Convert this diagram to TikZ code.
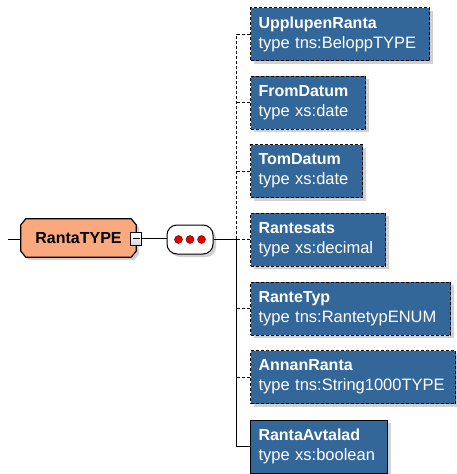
\documentclass[tikz,border=0pt]{standalone}
\usepackage{fontspec}
\setmainfont{Liberation Sans}
\usetikzlibrary{shadows,calc}
\definecolor{boxblue}{RGB}{51,102,153}
\definecolor{peach}{RGB}{250,168,125}
\definecolor{dotred}{RGB}{230,0,0}
\tikzset{
  x=1pt,y=-1pt,
  shad/.style={drop shadow={shadow xshift=3pt,shadow yshift=-3pt,fill=black!30,opacity=.6}},
  elem/.style={draw=black,line width=1pt,fill=boxblue,text=white,shad,
    font=\fontsize{16.5}{20}\selectfont,align=left,anchor=north west,
    minimum height=53pt,inner xsep=8pt,inner ysep=2pt},
  opt/.style={dash pattern=on 3pt off 2pt},
  conn/.style={draw=black,line width=1pt},
}
\begin{document}
\begin{tikzpicture}
\useasboundingbox (0,0) rectangle (456,474);
% main type node (chamfered outline drawn from its anchors)
\node[minimum width=115pt,minimum height=38pt,inner sep=0pt,
  font=\fontsize{16}{20}\selectfont\bfseries] (main) at (78.5,238) {};
\filldraw[draw=black,line width=1.2pt,fill=peach,shad]
  ($(main.north west)+(5,0)$) -- ($(main.north east)+(-5,0)$) -- ($(main.north east)+(0,6)$)
  -- ($(main.south east)+(0,-6)$) -- ($(main.south east)+(-5,0)$) -- ($(main.south west)+(5,0)$)
  -- ($(main.south west)+(0,-6)$) -- ($(main.north west)+(0,6)$) -- cycle;
\node[font=\fontsize{16}{20}\selectfont\bfseries,inner sep=0pt] (title) at ($(main.center)+(0,0.5)$) {RantaTYPE};
\coordinate (in) at (8,239);
\draw[conn] (in) -- (in -| main.west);
% minus box
\node[draw=black,line width=1pt,top color=white,bottom color=black!15,minimum width=11pt,minimum height=13pt,inner sep=0pt] (minus) at (136,238.7) {};
\draw[line width=1pt] ($(minus.center)+(-3.5,0)$) -- ($(minus.center)+(3.5,0)$);
% sequence
\node[draw=black,line width=1pt,fill=white,rounded corners=10pt,minimum width=46pt,
  minimum height=29pt,inner sep=0pt,shad] (seq) at (190,239.5) {};
\foreach \dx/\nm in {-11.5/d1,0/d2,11.5/d3}
  \node[circle,draw=black!70!red,fill=dotred,minimum size=8pt,inner sep=0pt] (\nm) at ($(seq.center)+(\dx,0)$) {};
\draw[conn] (minus.east) -- (minus.east -| seq.west);
\coordinate (jn) at (236.5,239);
\draw[conn] (seq.east |- jn) -- (jn);
% children
\node[elem,opt,text width=163pt] (b1) at (250,7)   {\textbf{\fontsize{16}{20}\selectfont UpplupenRanta}\\type tns:BeloppTYPE};
\node[elem,opt,text width=99pt]  (b2) at (250,75.5) {\textbf{\fontsize{16}{20}\selectfont FromDatum}\\type xs:date};
\node[elem,opt,text width=96pt]  (b3) at (250,144)  {\textbf{\fontsize{16}{20}\selectfont TomDatum}\\type xs:date};
\node[elem,opt,text width=119pt] (b4) at (250,212.5){\textbf{\fontsize{16}{20}\selectfont Rantesats}\\type xs:decimal};
\node[elem,opt,text width=184pt] (b5) at (250,281.5){\textbf{\fontsize{16}{20}\selectfont RanteTyp}\\type tns:RantetypENUM};
\node[elem,opt,text width=189pt] (b6) at (250,350)  {\textbf{\fontsize{16}{20}\selectfont AnnanRanta}\\type tns:String1000TYPE};
\node[elem,text width=121pt]     (b7) at (250,419.5){\textbf{\fontsize{16}{20}\selectfont RantaAvtalad}\\type xs:boolean};
% connectors
\draw[conn,opt] (jn) -- (b1.west -| jn) -- (b1.west);
\foreach \b in {b2,b3,b4,b5,b6}
  \draw[conn,opt] (\b.west -| jn) -- (\b.west);
\draw[conn] (jn) |- (b7.west);
\end{tikzpicture}
\end{document}
